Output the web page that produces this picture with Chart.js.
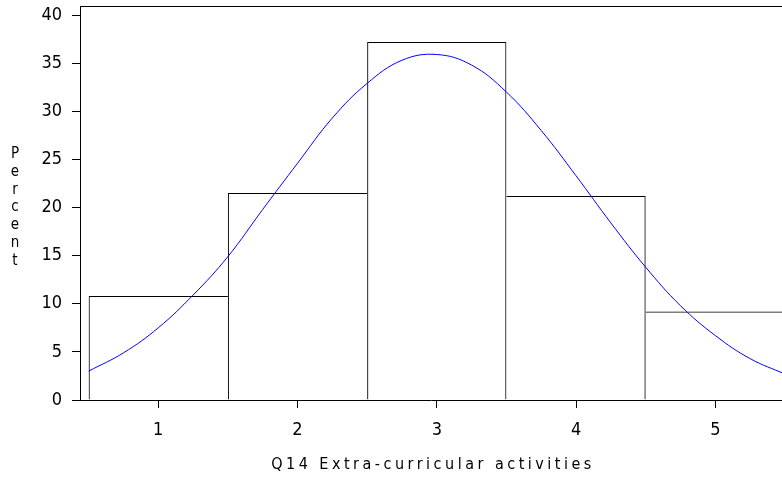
<!DOCTYPE html>
<html lang="en">
<head>
<meta charset="UTF-8">
<title>Q14 Extra-curricular activities</title>
<script src="https://cdn.jsdelivr.net/npm/chart.js"></script>
<style>
    body { margin: 0; background: #fff; }
    canvas { display: block; }
</style>
</head>
<body>
<canvas id="histChart" width="782" height="481"></canvas>
<script>
// histogram bars (percent per response value)
const categories = [1, 2, 3, 4, 5];
const percents = [10.8, 21.5, 37.2, 21.2, 9.2];

// fitted normal curve
const curveX = [0.5, 0.75, 1, 1.25, 1.5, 1.75, 2, 2.25, 2.5, 2.75, 3, 3.25, 3.5, 3.75, 4, 4.25, 4.5, 4.75, 5, 5.25, 5.5];
const curveY = [3.0, 4.9, 7.5, 10.9, 14.9, 19.8, 24.6, 29.3, 32.9, 35.3, 35.9, 34.8, 32.0, 28.0, 23.3, 18.4, 13.8, 9.8, 6.7, 4.3, 2.7];

const yTicks = [0, 5, 10, 15, 20, 25, 30, 35, 40];
const xTicks = [1, 2, 3, 4, 5];
const xTitle = 'Q14 Extra-curricular activities';
const yTitle = 'Percent';

const tickFont = { family: "'Liberation Sans Narrow', 'DejaVu Sans Condensed', 'Liberation Sans', sans-serif", size: 18 };
const titleFamily = "'Liberation Sans Narrow', 'DejaVu Sans Condensed', 'Liberation Sans', sans-serif";

// shared edge between two bars is drawn once, by the taller bar
function barBorder(c) {
    const i = c.dataIndex;
    const h = percents[i];
    const prev = i > 0 ? percents[i - 1] : -1;
    const next = i < percents.length - 1 ? percents[i + 1] : -1;
    return { top: 1, bottom: 0, left: h >= prev ? 1 : 0, right: h > next ? 1 : 0 };
}

// frame line on top + axis titles (SAS style, y title stacked letter by letter)
const framePlugin = {
    id: 'frame',
    afterDraw(chart) {
        const { ctx, chartArea } = chart;
        ctx.save();
        ctx.strokeStyle = '#000';
        ctx.lineWidth = 1;
        ctx.beginPath();
        ctx.moveTo(chartArea.left, chartArea.top + 0.5);
        ctx.lineTo(chartArea.right, chartArea.top + 0.5);
        ctx.stroke();

        ctx.fillStyle = '#000';
        ctx.font = '16px ' + titleFamily;
        ctx.letterSpacing = '3.5px';
        ctx.textAlign = 'center';
        ctx.textBaseline = 'alphabetic';
        ctx.fillText(xTitle, (chartArea.left + chartArea.right) / 2 + 2, 469);

        ctx.letterSpacing = '0px';
        ctx.font = '15px ' + titleFamily;
        yTitle.split('').forEach((ch, i) => {
            ctx.fillText(ch, 15, 158 + i * 17.8);
        });
        ctx.restore();
    }
};

const ctx = document.getElementById('histChart').getContext('2d');
new Chart(ctx, {
    type: 'bar',
    data: {
        datasets: [{
            type: 'line',
            data: curveX.map((x, i) => ({ x: x, y: curveY[i] })),
            borderColor: '#0000ff',
            borderWidth: 1,
            pointRadius: 0,
            tension: 0.4,
            fill: false,
            order: 0
        }, {
            type: 'bar',
            data: categories.map((c, i) => ({ x: c, y: percents[i] })),
            backgroundColor: 'rgba(0,0,0,0)',
            borderColor: '#000',
            borderWidth: barBorder,
            borderSkipped: false,
            inflateAmount: 0,
            barPercentage: 1,
            categoryPercentage: 1,
            order: 1
        }]
    },
    options: {
        responsive: false,
        animation: false,
        layout: { padding: { top: 6, right: 0, left: 0, bottom: 0 } },
        plugins: {
            legend: { display: false },
            tooltip: { enabled: false }
        },
        scales: {
            x: {
                type: 'linear',
                min: 0.438,
                max: 5.479,
                offset: false,
                grid: { offset: false, drawOnChartArea: false, tickLength: 8, color: '#000' },
                border: { color: '#000', width: 1 },
                ticks: { color: '#000', font: tickFont, padding: 12, maxRotation: 0 },
                afterBuildTicks(scale) { scale.ticks = xTicks.map(v => ({ value: v })); },
                afterFit(scale) { scale.height = 81; scale.paddingLeft = 0; scale.paddingRight = 0; }
            },
            y: {
                min: 0,
                max: 40.94,
                grid: { drawOnChartArea: false, tickLength: 8, color: '#000' },
                border: { color: '#000', width: 1 },
                ticks: { color: '#000', font: tickFont, padding: 10 },
                afterBuildTicks(scale) { scale.ticks = yTicks.map(v => ({ value: v })); },
                afterFit(scale) { scale.width = 80; scale.paddingTop = 0; scale.paddingBottom = 0; }
            }
        }
    },
    plugins: [framePlugin]
});
</script>
</body>
</html>
